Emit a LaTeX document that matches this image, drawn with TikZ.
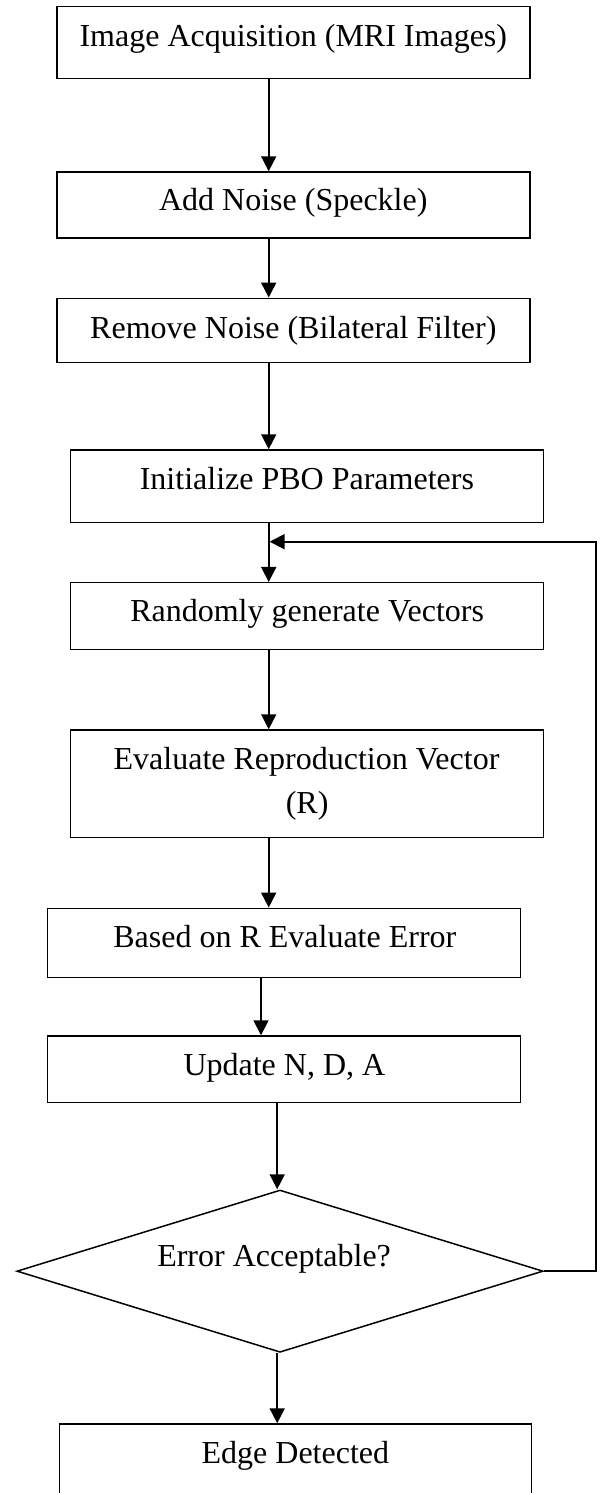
\documentclass[tikz,border=0pt]{standalone}
\usepackage{fontspec}
\setmainfont{Liberation Serif}
\usetikzlibrary{arrows.meta,shapes.geometric}
\begin{document}
\begin{tikzpicture}[x=1pt,y=-1pt,
  box/.style={draw,line width=1.5pt,rectangle,inner sep=0pt},
  dia/.style={draw,line width=1.5pt,diamond,inner sep=0pt},
  txt/.style={anchor=base,inner sep=0pt,font=\fontsize{32}{42}\selectfont},
  arr/.style={line width=1.8pt,-{Triangle[length=15pt,width=15pt]}}]
\useasboundingbox (0,0) rectangle (602,1493);
\clip (0,0) rectangle (602,1493);
% boxes
\node[box,minimum width=473pt,minimum height=72pt] (b1) at (293.3,42.7) {};
\node[box,minimum width=473pt,minimum height=66pt] (b2) at (293.3,205) {};
\node[box,minimum width=473pt,minimum height=64pt] (b3) at (293.3,330.3) {};
\node[box,minimum width=473pt,minimum height=72.3pt] (b4) at (307.1,486.15) {};
\node[box,minimum width=473pt,minimum height=66.6pt] (b5) at (307.1,616) {};
\node[box,minimum width=473pt,minimum height=107.7pt] (b6) at (307.1,783.85) {};
\node[box,minimum width=473pt,minimum height=69.4pt] (b7) at (284.05,943) {};
\node[box,minimum width=473pt,minimum height=66.7pt] (b8) at (284.05,1069.35) {};
\node[dia,minimum width=526.3pt,minimum height=162.3pt] (d) at (280,1271.15) {};
\node[box,minimum width=472.2pt,minimum height=90pt] (b9) at (295.6,1469) {};
% texts
\node[txt] (t1) at (293.3,46.5) {Image Acquisition (MRI Images)};
\node[txt] (t2) at (293.3,210) {Add Noise (Speckle)};
\node[txt] (t3) at (293.3,338.3) {Remove Noise (Bilateral Filter)};
\node[txt] (t4) at (306.9,489.3) {Initialize PBO Parameters};
\node[txt] (t5) at (307.1,621.7) {Randomly generate Vectors};
\node[txt] (t6a) at (306.5,769.3) {Evaluate Reproduction Vector};
\node[txt] (t6b) at (307.1,813.3) {(R)};
\node[txt] (t7) at (284.8,947.3) {Based on R Evaluate Error};
\node[txt] (t8) at (284.4,1075) {Update N, D, A};
\node[txt] (td) at (274.1,1266) {Error Acceptable?};
\node[txt] (t9) at (295.4,1463.3) {Edge Detected};
% connector columns
\coordinate (cA) at (268.7,0);
\coordinate (cB) at (261,0);
\coordinate (cC) at (277.2,0);
\coordinate (fbx) at (595.8,0);
\coordinate (fby) at (0,541.7);
% arrows
\draw[arr] (cA |- b1.south) -- (cA |- b2.north);
\draw[arr] (cA |- b2.south) -- (cA |- b3.north);
\draw[arr] (cA |- b3.south) -- (cA |- b4.north);
\draw[arr] (cA |- b4.south) -- (cA |- b5.north);
\draw[arr] (cA |- b5.south) -- (cA |- b6.north);
\draw[arr] (cA |- b6.south) -- (cA |- b7.north);
\draw[arr] (cB |- b7.south) -- (cB |- b8.north);
\draw[arr] (cC |- b8.south) -- (cC |- d.north);
\draw[arr] (cC |- d.south) -- (cC |- b9.north);
\draw[arr] (d.east) -- (fbx |- d.east) -- (fbx |- fby) -- ([xshift=0.9pt]cA |- fby);
\end{tikzpicture}
\end{document}
